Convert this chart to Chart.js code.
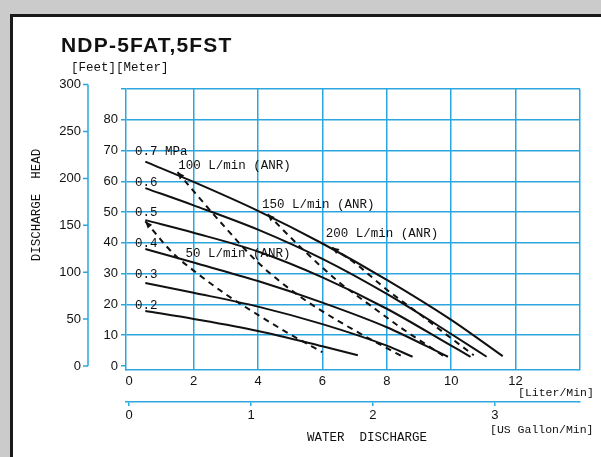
<!DOCTYPE html>
<html>
<head>
<meta charset="utf-8">
<title>NDP-5FAT,5FST</title>
<script src="https://cdn.jsdelivr.net/npm/chart.js@4.4.1/dist/chart.umd.min.js"></script>
<style>
  html, body { margin: 0; padding: 0; background: #cdcdcd; }
  canvas { display: block; }
</style>
</head>
<body>
<canvas id="pumpChart" width="601" height="457"></canvas>
<script>
// pressure curves: flow (L/min) vs head (m)
const p02Flow = [0.5, 2, 4, 6, 7.1];
const p02Head = [17.9, 15.3, 11.4, 6.4, 3.5];
const p03Flow = [0.5, 2, 4, 6, 8, 8.8];
const p03Head = [27, 23.8, 19.3, 13.6, 6.6, 3];
const p04Flow = [0.5, 2, 4, 6, 8, 9.9];
const p04Head = [38, 33.6, 27.6, 20.6, 12.6, 3];
const p05Flow = [0.5, 2, 4, 6, 8, 10, 10.6];
const p05Head = [47.4, 43.3, 37.2, 28.8, 18.6, 6.6, 3];
const p06Flow = [0.5, 2, 4, 6, 8, 10, 11.1];
const p06Head = [57.8, 52.2, 44.3, 34.8, 23.4, 10.4, 3];
const p07Flow = [0.5, 2, 4, 6, 8, 10, 11.6];
const p07Head = [66.4, 59.8, 50.4, 39.8, 28, 15, 3.2];

// air consumption curves (dashed)
const a50Flow = [0.5, 1.4, 2, 3, 4, 5, 6];
const a50Head = [47, 36.2, 31, 23.3, 16.6, 10.3, 4.5];
const a100Flow = [1.5, 2, 3, 4, 5.3, 6.5, 8, 8.5];
const a100Head = [63, 56.8, 44.8, 33.6, 22.6, 14.6, 5.8, 3];
const a150Flow = [4.3, 5.35, 6.5, 7.5, 8.5, 9.8];
const a150Head = [49.3, 38.3, 27.4, 19.6, 12, 3];
const a200Flow = [6.3, 7, 8, 9, 10, 10.7];
const a200Head = [38.5, 33.5, 24.8, 17, 9, 3.5];

const pressureLabels = ['0.2', '0.3', '0.4', '0.5', '0.6', '0.7 MPa'];
const airLabels = ['50 L/min (ANR)', '100 L/min (ANR)', '150 L/min (ANR)', '200 L/min (ANR)'];

// axis ticks
const literTicks = [0, 2, 4, 6, 8, 10, 12, 14];
const gallonTicks = [0, 1, 2, 3];
const meterTicks = [0, 10, 20, 30, 40, 50, 60, 70, 80, 90];
const feetTicks = [0, 50, 100, 150, 200, 250, 300];

const BLUE = '#2ba6de';
const INK = '#111';
const LPG = 3.785;   // liters per US gallon
const FPM = 3.2808;  // feet per meter

function toPoints(xs, ys) {
    return xs.map((x, i) => ({ x: x, y: ys[i] }));
}

function solid(xs, ys) {
    return {
        data: toPoints(xs, ys),
        borderColor: INK,
        borderWidth: 2,
        showLine: true,
        pointRadius: 0,
        cubicInterpolationMode: 'monotone'
    };
}

function dashed(xs, ys) {
    const d = solid(xs, ys);
    d.borderDash = [6, 5];
    d.isAir = true;
    return d;
}

// gray frame + white sheet behind the chart
const sheetPlugin = {
    id: 'sheet',
    beforeDraw(chart) {
        const c = chart.ctx;
        const w = chart.width, h = chart.height;
        c.save();
        c.fillStyle = '#cbcbcb';
        c.fillRect(0, 0, w, h);
        c.fillStyle = '#ffffff';
        c.fillRect(10, 14, w - 10, h - 14);
        c.fillStyle = '#1a1a1a';
        c.fillRect(10, 14, w - 10, 3);
        c.fillRect(10, 14, 3, h - 14);
        c.restore();
    }
};

// feet axis, arrowheads, curve labels, titles
const textPlugin = {
    id: 'texts',
    afterDraw(chart) {
        const c = chart.ctx;
        const xs = chart.scales.x;
        const ys = chart.scales.y;
        c.save();

        // feet axis drawn off the meter scale
        const fx = 88;
        c.strokeStyle = BLUE;
        c.lineWidth = 1.5;
        c.beginPath();
        c.moveTo(fx, ys.getPixelForValue(300 / FPM));
        c.lineTo(fx, ys.getPixelForValue(0));
        feetTicks.forEach(ft => {
            const py = ys.getPixelForValue(ft / FPM);
            c.moveTo(fx - 5, py);
            c.lineTo(fx, py);
        });
        c.stroke();

        // small arrowheads at the start of each dashed line
        c.fillStyle = INK;
        chart.data.datasets.forEach(ds => {
            if (!ds.isAir) return;
            const p0 = ds.data[0], p1 = ds.data[1];
            const x0 = xs.getPixelForValue(p0.x), y0 = ys.getPixelForValue(p0.y);
            const x1 = xs.getPixelForValue(p1.x), y1 = ys.getPixelForValue(p1.y);
            const a = Math.atan2(y0 - y1, x0 - x1);
            c.beginPath();
            c.moveTo(x0, y0);
            c.lineTo(x0 - 7 * Math.cos(a) + 3 * Math.sin(a), y0 - 7 * Math.sin(a) - 3 * Math.cos(a));
            c.lineTo(x0 - 7 * Math.cos(a) - 3 * Math.sin(a), y0 - 7 * Math.sin(a) + 3 * Math.cos(a));
            c.closePath();
            c.fill();
        });

        c.font = '13px "Liberation Sans", Arial, sans-serif';
        c.textAlign = 'right';
        c.textBaseline = 'middle';
        feetTicks.forEach(ft => {
            c.fillText(String(ft), fx - 7, ys.getPixelForValue(ft / FPM));
        });

        // title
        c.textAlign = 'left';
        c.font = 'bold 21px "Liberation Sans", Arial, sans-serif';
        c.letterSpacing = '1.2px';
        c.fillText('NDP-5FAT,5FST', 61, 46);
        c.letterSpacing = '0px';

        const mono = '12.5px "Liberation Mono", "DejaVu Sans Mono", monospace';
        c.font = mono;
        c.fillText('[Feet][Meter]', 71, 68);

        // pressure labels sit on the grid line of their head value
        pressureLabels.forEach((t, i) => {
            const mpa = 0.2 + i * 0.1;
            c.fillText(t, xs.getPixelForValue(0.18), ys.getPixelForValue(mpa * 100) + 1);
        });

        // air consumption labels
        const airAt = [[1.75, 36.6], [1.52, 65.2], [4.12, 52.4], [6.1, 43]];
        airLabels.forEach((t, i) => {
            c.fillText(t, xs.getPixelForValue(airAt[i][0]), ys.getPixelForValue(airAt[i][1]));
        });

        // axis titles / units
        c.fillText('WATER  DISCHARGE', 307, 438);
        c.font = '11.5px "Liberation Mono", "DejaVu Sans Mono", monospace';
        c.fillText('[Liter/Min]', 518, 393);
        c.fillText('[US Gallon/Min]', 490, 430);

        c.font = mono;
        c.translate(37, 205);
        c.rotate(-Math.PI / 2);
        c.textAlign = 'center';
        c.fillText('DISCHARGE  HEAD', 0, 0);
        c.restore();
    }
};

const tickFont = { family: '"Liberation Sans", Arial, sans-serif', size: 13 };

const config = {
    type: 'scatter',
    data: {
        datasets: [
            solid(p02Flow, p02Head),
            solid(p03Flow, p03Head),
            solid(p04Flow, p04Head),
            solid(p05Flow, p05Head),
            solid(p06Flow, p06Head),
            solid(p07Flow, p07Head),
            dashed(a50Flow, a50Head),
            dashed(a100Flow, a100Head),
            dashed(a150Flow, a150Head),
            dashed(a200Flow, a200Head)
        ]
    },
    options: {
        responsive: false,
        animation: false,
        layout: { padding: { left: 90, right: 21, top: 89, bottom: 25 } },
        plugins: {
            legend: { display: false },
            tooltip: { enabled: false }
        },
        scales: {
            x: {
                type: 'linear',
                position: 'bottom',
                min: -0.1,
                max: 14,
                afterBuildTicks: s => { s.ticks = literTicks.map(v => ({ value: v })); },
                afterFit: s => { s.height = 32; },
                ticks: {
                    color: INK,
                    font: tickFont,
                    padding: 4,
                    maxRotation: 0,
                    autoSkip: false,
                    callback: v => (v <= 12 ? v : '')
                },
                grid: {
                    color: ctx => (ctx.tick && ctx.tick.value === 0 ? 'rgba(0,0,0,0)' : BLUE),
                    lineWidth: 1.5,
                    drawTicks: false
                },
                border: { color: BLUE, width: 1.5 }
            },
            x2: {
                type: 'linear',
                position: 'bottom',
                min: -0.1 / LPG,
                max: 14 / LPG,
                afterBuildTicks: s => { s.ticks = gallonTicks.map(v => ({ value: v })); },
                afterFit: s => { s.height = 30; },
                ticks: {
                    color: INK,
                    font: tickFont,
                    padding: 2,
                    maxRotation: 0,
                    autoSkip: false
                },
                grid: {
                    drawOnChartArea: false,
                    color: BLUE,
                    lineWidth: 1.5,
                    tickLength: 4
                },
                border: { color: BLUE, width: 1.5 }
            },
            y: {
                type: 'linear',
                position: 'left',
                min: -1.3,
                max: 90,
                afterBuildTicks: s => { s.ticks = meterTicks.map(v => ({ value: v })); },
                afterFit: s => { s.width = 36; },
                ticks: {
                    color: INK,
                    font: tickFont,
                    padding: 3,
                    callback: v => (v <= 80 ? v : '')
                },
                grid: {
                    color: ctx => (ctx.tick && ctx.tick.value === 0 ? 'rgba(0,0,0,0)' : BLUE),
                    tickColor: BLUE,
                    lineWidth: 1.5,
                    tickLength: 5
                },
                border: { color: BLUE, width: 1.5 }
            }
        }
    },
    plugins: [sheetPlugin, textPlugin]
};

const pumpChart = new Chart(document.getElementById('pumpChart').getContext('2d'), config);
</script>
</body>
</html>
